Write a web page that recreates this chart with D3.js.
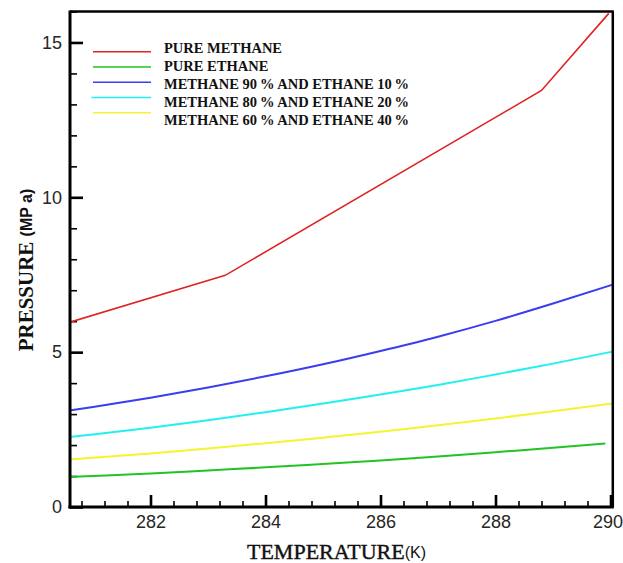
<!DOCTYPE html>
<html>
<head>
<meta charset="utf-8">
<script src="https://cdn.jsdelivr.net/npm/d3@7"></script>
<style>
  html, body { margin: 0; padding: 0; background: #fff; }
  svg { display: block; }
</style>
</head>
<body>
<svg id="chart" width="623" height="563"></svg>
<script>
// ---- data ----
const seriesNames = [
  "PURE METHANE",
  "PURE ETHANE",
  "METHANE 90% AND ETHANE 10%",
  "METHANE 80% AND ETHANE 20%",
  "METHANE 60% AND ETHANE 40%"
];
const seriesColors = ["#e02424", "#22c322", "#3c3cf0", "#22f0f0", "#f4f432"];

const tempMethane = [280.6, 283.3, 288.8, 289.97];
const presMethane = [5.97, 7.48, 13.45, 15.94];

const tempEthane = [280.6, 281, 282, 283, 284, 285, 286, 287, 288, 289, 289.91];
const presEthane = [0.97, 1.00, 1.08, 1.18, 1.28, 1.39, 1.50, 1.63, 1.77, 1.91, 2.05];

const tempMix = [280.6, 281, 282, 283, 284, 285, 286, 287, 288, 289, 290.04];
const presMix90 = [3.12, 3.23, 3.53, 3.86, 4.22, 4.61, 5.04, 5.50, 6.01, 6.57, 7.18];
const presMix80 = [2.26, 2.34, 2.56, 2.80, 3.06, 3.34, 3.63, 3.94, 4.28, 4.63, 5.02];
const presMix60 = [1.54, 1.59, 1.73, 1.89, 2.06, 2.24, 2.43, 2.64, 2.86, 3.09, 3.34];

const xMajorTicks = [282, 284, 286, 288, 290];
const yMajorTicks = [0, 5, 10, 15];
const xTitle = "TEMPERATURE";
const xUnit = "(K)";
const yTitle = "PRESSURE ";
const yUnit = "(MP a)";

// ---- build ----
const series = [
  { name: seriesNames[0], color: seriesColors[0], T: tempMethane, P: presMethane, linear: true },
  { name: seriesNames[1], color: seriesColors[1], T: tempEthane, P: presEthane },
  { name: seriesNames[2], color: seriesColors[2], T: tempMix, P: presMix90 },
  { name: seriesNames[3], color: seriesColors[3], T: tempMix, P: presMix80 },
  { name: seriesNames[4], color: seriesColors[4], T: tempMix, P: presMix60 }
];

const svg = d3.select("#chart");
const L = 70, R = 612.8, T0 = 11.5, B = 507;
const x = d3.scaleLinear().domain([280.6, 290.04]).range([L, R]);
const y = d3.scaleLinear().domain([0, 16]).range([B, T0]);

svg.append("defs").append("clipPath").attr("id", "plotclip")
  .append("rect").attr("x", L).attr("y", T0).attr("width", R - L).attr("height", B - T0);

// minor ticks
const xMinor = d3.range(280.8, 290.01, 0.4).filter(v => !xMajorTicks.some(m => Math.abs(m - v) < 1e-6));
const yMinor = d3.range(1, 16.01, 1).filter(v => !yMajorTicks.includes(v));

const gxMinor = svg.append("g").attr("transform", `translate(0,${B})`)
  .call(d3.axisBottom(x).tickValues(xMinor).tickSize(-6).tickFormat(""));
gxMinor.select(".domain").remove();
gxMinor.selectAll("line").attr("stroke", "#000").attr("stroke-width", 1.6);

const gyMinor = svg.append("g").attr("transform", `translate(${L},0)`)
  .call(d3.axisLeft(y).tickValues(yMinor).tickSize(-7).tickFormat(""));
gyMinor.select(".domain").remove();
gyMinor.selectAll("line").attr("stroke", "#000").attr("stroke-width", 1.6);

// major ticks
const gx = svg.append("g").attr("transform", `translate(0,${B})`)
  .call(d3.axisBottom(x).tickValues(xMajorTicks).tickSize(-12).tickPadding(8).tickFormat(d3.format("d")));
gx.select(".domain").remove();
gx.selectAll("line").attr("stroke", "#000").attr("stroke-width", 2.6);
gx.selectAll("text").attr("font-family", "'Liberation Sans', Arial, sans-serif")
  .attr("font-size", 18).attr("fill", "#262626")
  .attr("dx", d => d === 290 ? -3 : 0);

const gy = svg.append("g").attr("transform", `translate(${L},0)`)
  .call(d3.axisLeft(y).tickValues(yMajorTicks).tickSize(-13).tickPadding(8).tickFormat(d3.format("d")));
gy.select(".domain").remove();
gy.selectAll("line").attr("stroke", "#000").attr("stroke-width", 2.6);
gy.selectAll("text").attr("font-family", "'Liberation Sans', Arial, sans-serif")
  .attr("font-size", 18).attr("fill", "#262626");

// lines
const plot = svg.append("g").attr("clip-path", "url(#plotclip)");
series.forEach(s => {
  const pts = s.T.map((t, i) => [t, s.P[i]]);
  const line = d3.line().x(d => x(d[0])).y(d => y(d[1]))
    .curve(s.linear ? d3.curveLinear : d3.curveMonotoneX);
  plot.append("path").datum(pts).attr("d", line)
    .attr("fill", "none").attr("stroke", s.color)
    .attr("stroke-width", s.linear ? 1.6 : 2);
});

// frame
svg.append("line").attr("x1", L).attr("x2", R + 1).attr("y1", T0).attr("y2", T0)
  .attr("stroke", "#000").attr("stroke-width", 2.5);
svg.append("line").attr("x1", R).attr("x2", R).attr("y1", T0).attr("y2", B)
  .attr("stroke", "#000").attr("stroke-width", 2.5);
svg.append("line").attr("x1", L).attr("x2", L).attr("y1", T0 - 1).attr("y2", B + 1.5)
  .attr("stroke", "#000").attr("stroke-width", 3);
svg.append("line").attr("x1", L - 1.5).attr("x2", R + 1).attr("y1", B).attr("y2", B)
  .attr("stroke", "#000").attr("stroke-width", 3);

// legend
const legend = svg.append("g");
series.forEach((s, i) => {
  const ly = 51.7 + i * 15.25;
  legend.append("line").attr("x1", i === 3 ? 91.5 : 93).attr("x2", 151)
    .attr("y1", ly).attr("y2", ly)
    .attr("stroke", s.color).attr("stroke-width", 1.6);
  legend.append("text").attr("x", 164).attr("y", 52.5 + i * 18)
    .attr("font-family", "'Liberation Serif', 'Times New Roman', serif")
    .attr("font-weight", "bold").attr("font-size", 14.5).attr("fill", "#111")
    .text(s.name.replace(/(\d+)%/g, "$1\u2009%"));
});

// axis titles
const xt = svg.append("text").attr("x", 336.5).attr("y", 559).attr("text-anchor", "middle")
  .attr("fill", "#111");
xt.append("tspan").attr("font-family", "'Liberation Serif', 'Times New Roman', serif")
  .attr("font-size", 22).attr("stroke", "#111").attr("stroke-width", 0.4).text(xTitle);
xt.append("tspan").attr("font-family", "'Liberation Sans', Arial, sans-serif")
  .attr("font-size", 16).attr("dy", -1).text(xUnit);

const yt = svg.append("text").attr("transform", "translate(33,270) rotate(-90)")
  .attr("text-anchor", "middle").attr("fill", "#111");
yt.append("tspan").attr("font-family", "'Liberation Serif', 'Times New Roman', serif")
  .attr("font-weight", "bold").attr("font-size", 21).text(yTitle);
yt.append("tspan").attr("font-family", "'Liberation Sans', Arial, sans-serif")
  .attr("font-weight", "bold").attr("font-size", 16).attr("dy", -1).text(yUnit);
</script>
</body>
</html>
